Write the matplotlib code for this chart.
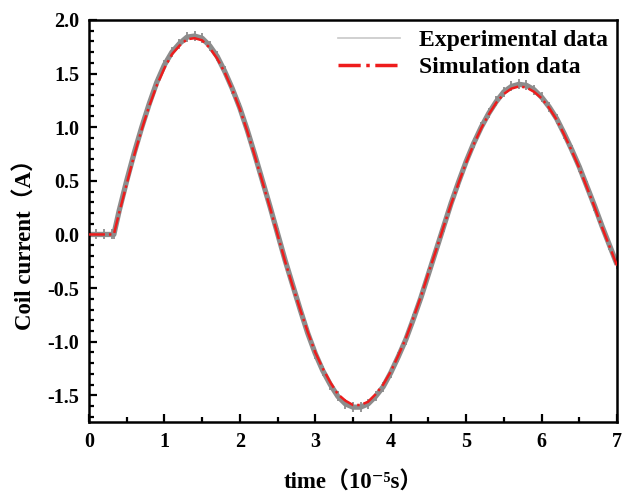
import matplotlib
matplotlib.use('Agg')
import matplotlib.pyplot as plt
from matplotlib.lines import Line2D
from matplotlib.ticker import MultipleLocator

plt.rcParams['font.family'] = ['Liberation Serif', 'Noto Sans CJK SC', 'DejaVu Serif']
plt.rcParams['font.weight'] = 'bold'
plt.rcParams['axes.unicode_minus'] = False

# time in 10^-5 s, current in A
time = [0.0, 0.1, 0.2, 0.3, 0.33, 0.4, 0.5, 0.6, 0.7, 0.8, 0.9,
        1.0, 1.1, 1.2, 1.3, 1.4, 1.5, 1.6, 1.7, 1.8, 1.9,
        2.0, 2.1, 2.2, 2.3, 2.4, 2.5, 2.6, 2.7, 2.8, 2.9,
        3.0, 3.1, 3.2, 3.3, 3.4, 3.5, 3.6, 3.7, 3.8, 3.9,
        4.0, 4.1, 4.2, 4.3, 4.4, 4.5, 4.6, 4.7, 4.8, 4.9,
        5.0, 5.1, 5.2, 5.3, 5.4, 5.5, 5.6, 5.7, 5.8, 5.9,
        6.0, 6.1, 6.2, 6.3, 6.4, 6.5, 6.6, 6.7, 6.8, 6.9, 7.0]
sim = [0.0, 0.0, 0.0, 0.0, 0.0, 0.20, 0.47, 0.74, 0.98, 1.20, 1.39,
       1.55, 1.68, 1.76, 1.82, 1.83, 1.81, 1.74, 1.64, 1.51, 1.35,
       1.17, 0.96, 0.73, 0.49, 0.25, 0.00, -0.25, -0.48, -0.70, -0.91,
       -1.10, -1.25, -1.38, -1.49, -1.55, -1.59, -1.59, -1.56, -1.49, -1.40,
       -1.28, -1.13, -0.97, -0.78, -0.58, -0.36, -0.15, 0.07, 0.28, 0.48,
       0.67, 0.84, 0.99, 1.12, 1.23, 1.31, 1.36, 1.38, 1.37, 1.33,
       1.27, 1.18, 1.07, 0.93, 0.78, 0.62, 0.44, 0.26, 0.07, -0.11, -0.29]
exp = [0.0, 0.0, 0.0, 0.0, 0.0, 0.22, 0.50, 0.76, 1.00, 1.22, 1.42,
       1.58, 1.70, 1.78, 1.84, 1.85, 1.83, 1.76, 1.66, 1.52, 1.36,
       1.18, 0.97, 0.74, 0.50, 0.26, 0.01, -0.24, -0.47, -0.70, -0.92,
       -1.11, -1.27, -1.40, -1.51, -1.58, -1.61, -1.61, -1.58, -1.51, -1.42,
       -1.29, -1.14, -0.98, -0.79, -0.59, -0.37, -0.15, 0.07, 0.29, 0.49,
       0.68, 0.85, 1.00, 1.13, 1.24, 1.33, 1.38, 1.40, 1.39, 1.35,
       1.28, 1.19, 1.08, 0.94, 0.79, 0.63, 0.45, 0.27, 0.08, -0.10, -0.28]

fig = plt.figure(figsize=(6.22, 4.99), dpi=100)
ax = fig.add_axes([0.143, 0.154, 0.849, 0.806])

# experimental: grey band with small vertical marks (sampling steps)
ax.plot(time, exp, color='#8c8c8c', lw=3.8, solid_capstyle='butt', zorder=2)
ax.plot(time, exp, color='#8c8c8c', lw=0, marker='|', ms=7.5, mew=1.3, zorder=2)
ax.plot(time, sim, color='#ee1c1c', lw=1.8, ls='-.', zorder=3)

ax.set_xlim(0, 7)
ax.set_ylim(-1.75, 2.0)
ax.xaxis.set_major_locator(MultipleLocator(1))
ax.xaxis.set_minor_locator(MultipleLocator(0.5))
ax.yaxis.set_major_locator(MultipleLocator(0.5))
ax.yaxis.set_minor_locator(MultipleLocator(0.1))
ax.tick_params(which='both', direction='in', width=1.6, labelsize=14.5)
ax.tick_params(which='major', length=6, pad=7)
ax.tick_params(which='minor', length=3.5)
for s in ax.spines.values():
    s.set_linewidth(1.8)
for lab in ax.get_xticklabels() + ax.get_yticklabels():
    lab.set_fontweight('bold')

ax.set_xlabel('time（10⁻⁵s）', fontsize=16.5, fontweight='bold', labelpad=14)
ax.set_ylabel('Coil current（A）', fontsize=16.5, fontweight='bold')
ax.yaxis.set_label_coords(-0.098, 0.455)

handles = [Line2D([], [], color='#c8c8c8', lw=1.2),
           Line2D([], [], color='#ee1c1c', lw=2.5, ls='-.')]
ax.legend(handles, ['Experimental data', 'Simulation data'], loc='upper right',
          frameon=False, prop={'size': 17, 'weight': 'bold'},
          handlelength=2.6, handletextpad=0.8, borderaxespad=0.0,
          labelspacing=0.25)

fig.savefig('out.png', dpi=100)
